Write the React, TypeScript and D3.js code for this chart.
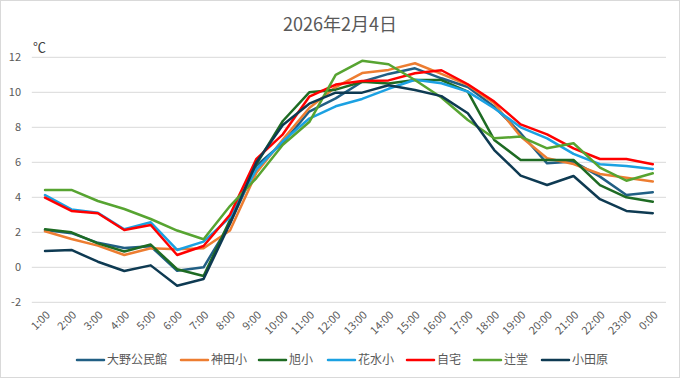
import React from "react";
import * as d3 from "d3";

const hours = ["1:00","2:00","3:00","4:00","5:00","6:00","7:00","8:00","9:00","10:00","11:00","12:00","13:00","14:00","15:00","16:00","17:00","18:00","19:00","20:00","21:00","22:00","23:00","0:00"];

const seriesNames = ["大野公民館","神田小","旭小","花水小","自宅","辻堂","小田原"];

const oono = [2.13,1.95,1.4,1.1,1.2,-0.2,0.0,2.5,5.8,7.1,8.9,9.65,10.6,11.05,11.37,10.8,10.3,9.18,7.66,5.94,6.04,5.18,4.13,4.29];
const kanda = [2.06,1.62,1.24,0.7,1.09,1.03,1.09,2.1,5.4,7.3,9.1,10.3,11.1,11.28,11.66,11.05,10.42,9.37,7.47,6.23,5.9,5.33,5.12,4.9];
const asahi = [2.17,2.0,1.37,0.9,1.3,-0.11,-0.5,2.7,5.9,8.36,10.0,10.15,10.6,10.5,10.7,10.7,10.04,7.28,6.13,6.13,6.13,4.7,4.0,3.75];
const hanamizu = [4.13,3.31,3.12,2.17,2.57,0.99,1.47,2.85,5.6,7.2,8.5,9.2,9.62,10.2,10.72,10.52,10.04,9.09,8.0,7.37,6.48,5.89,5.79,5.62];
const jitaku = [3.98,3.22,3.09,2.13,2.42,0.7,1.22,3.0,6.2,7.6,9.75,10.44,10.65,10.68,11.09,11.26,10.46,9.47,8.17,7.6,6.8,6.19,6.19,5.89];
const tsujido = [4.42,4.42,3.79,3.33,2.76,2.1,1.6,3.5,5.1,7.0,8.3,10.99,11.8,11.6,10.7,9.7,8.42,7.37,7.47,6.8,7.09,5.7,4.95,5.37];
const odawara = [0.93,0.99,0.32,-0.21,0.11,-1.05,-0.67,2.5,6.0,8.13,9.35,9.98,9.98,10.4,10.13,9.78,8.8,6.7,5.24,4.7,5.22,3.89,3.22,3.09];

const seriesValues = [oono, kanda, asahi, hanamizu, jitaku, tsujido, odawara];
const seriesColors = ["#215f84","#ed7d31","#1e6b23","#1ba1e2","#ff0000","#57a431","#0e3a52"];

const yTicks = [-2,0,2,4,6,8,10,12];
const title = "2026年2月4日";
const unit = "℃";

const W = 681, H = 379;
const legendX = [77,181,259,328,407,474,542];

export default function App() {
  React.useEffect(() => {
    document.body.style.margin = "0";
  }, []);
  const x = d3.scalePoint<string>().domain(hours).range([31.8, 666]).padding(0.5);
  const y = d3.scaleLinear().domain([-2, 12]).range([302.3, 57.3]);
  const line = d3.line<number>().x((_, i) => x(hours[i]) as number).y(d => y(d));
  const font = "'Noto Sans CJK JP', 'Noto Sans', sans-serif";
  return (
    <svg width={W} height={H} style={{ position: "absolute", left: 0, top: 0, display: "block" }} fontFamily={font}>
      <rect x={0.5} y={0.5} width={679} height={377} fill="#fff" stroke="#d9d9d9" />
      <text x={340} y={31} textAnchor="middle" fontSize={18} fill="#595959">{title}</text>
      <text x={33} y={52} fontSize={13} fill="#404040">{unit}</text>
      {yTicks.map(t => (
        <g key={t}>
          <line x1={31.8} x2={666} y1={y(t)} y2={y(t)} stroke="#d9d9d9" strokeWidth={1} />
          <text x={21} y={y(t)} dy="0.35em" textAnchor="end" fontSize={11} fill="#595959">{t}</text>
        </g>
      ))}
      {hours.map(h => (
        <text key={h} transform={`translate(${(x(h) as number) + 3},${313}) rotate(-45)`} textAnchor="end" fontSize={11} fill="#595959" dy="0.35em">{h}</text>
      ))}
      {seriesValues.map((vals, i) => (
        <path key={seriesNames[i]} d={line(vals) || ""} fill="none" stroke={seriesColors[i]} strokeWidth={2.5} strokeLinejoin="round" strokeLinecap="round" />
      ))}
      {seriesNames.map((n, i) => (
        <g key={n}>
          <line x1={legendX[i]} x2={legendX[i] + 27} y1={360} y2={360} stroke={seriesColors[i]} strokeWidth={2.5} strokeLinecap="round" />
          <text x={legendX[i] + 30} y={360} dy="0.35em" fontSize={12} fill="#595959">{n}</text>
        </g>
      ))}
    </svg>
  );
}
